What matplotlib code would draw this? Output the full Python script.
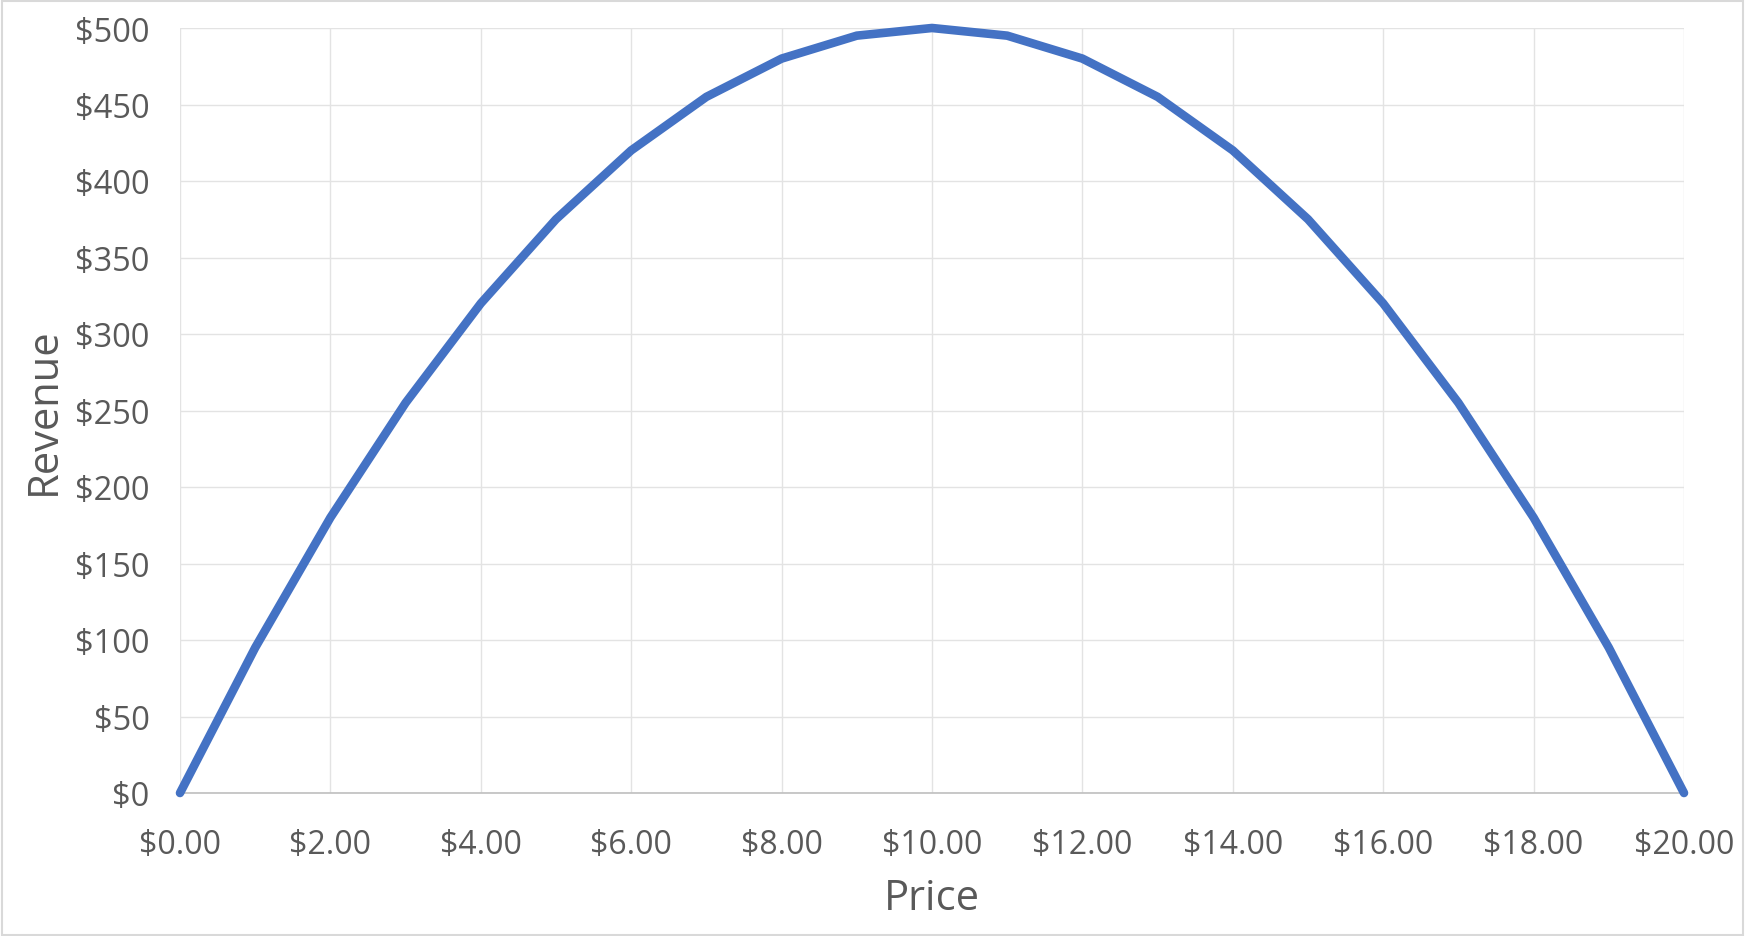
import matplotlib
matplotlib.use("Agg")
import matplotlib.pyplot as plt
from matplotlib.patches import Rectangle
from matplotlib.ticker import FuncFormatter, MultipleLocator

price = [0, 1, 2, 3, 4, 5, 6, 7, 8, 9, 10, 11, 12, 13, 14, 15, 16, 17, 18, 19, 20]
revenue = [0, 95, 180, 255, 320, 375, 420, 455, 480, 495, 500, 495, 480, 455, 420,
           375, 320, 255, 180, 95, 0]

plt.rcParams['font.family'] = ['Open Sans', 'DejaVu Sans']

fig = plt.figure(figsize=(17.46, 9.37), dpi=100)
ax = fig.add_axes([180/1746, 1-794/937, (1684-180)/1746, (794-29)/937])

ax.plot(price, revenue, color='#4472C4', linewidth=6.2, solid_capstyle='round',
        solid_joinstyle='round', zorder=3, clip_on=False)

ax.set_xlim(0, 20)
ax.set_ylim(0, 500)
ax.xaxis.set_major_locator(MultipleLocator(2))
ax.yaxis.set_major_locator(MultipleLocator(50))
ax.xaxis.set_major_formatter(FuncFormatter(lambda v, p: f"${v:.2f}"))
ax.yaxis.set_major_formatter(FuncFormatter(lambda v, p: f"${v:.0f}"))

ax.grid(True, which='major', color='#E3E3E3', linewidth=1.0, zorder=0)

for s in ['top', 'right', 'left']:
    ax.spines[s].set_visible(False)
ax.spines['bottom'].set_color('#BFBFBF')
ax.spines['bottom'].set_linewidth(1.2)

ax.tick_params(axis='both', which='both', length=0, labelcolor='#595959')
ax.tick_params(axis='y', pad=22, labelsize=23.5)
ax.tick_params(axis='x', pad=25, labelsize=23)

ax.set_xlabel('Price', fontsize=30, color='#595959', labelpad=12)
ax.set_ylabel('Revenue', fontsize=30, color='#595959', labelpad=7)

fig.patches.append(Rectangle((0.001, 0.001), 0.997, 0.997, transform=fig.transFigure,
                             fill=False, edgecolor='#D9D9D9', linewidth=1.5))

fig.savefig('out.png', dpi=100)
